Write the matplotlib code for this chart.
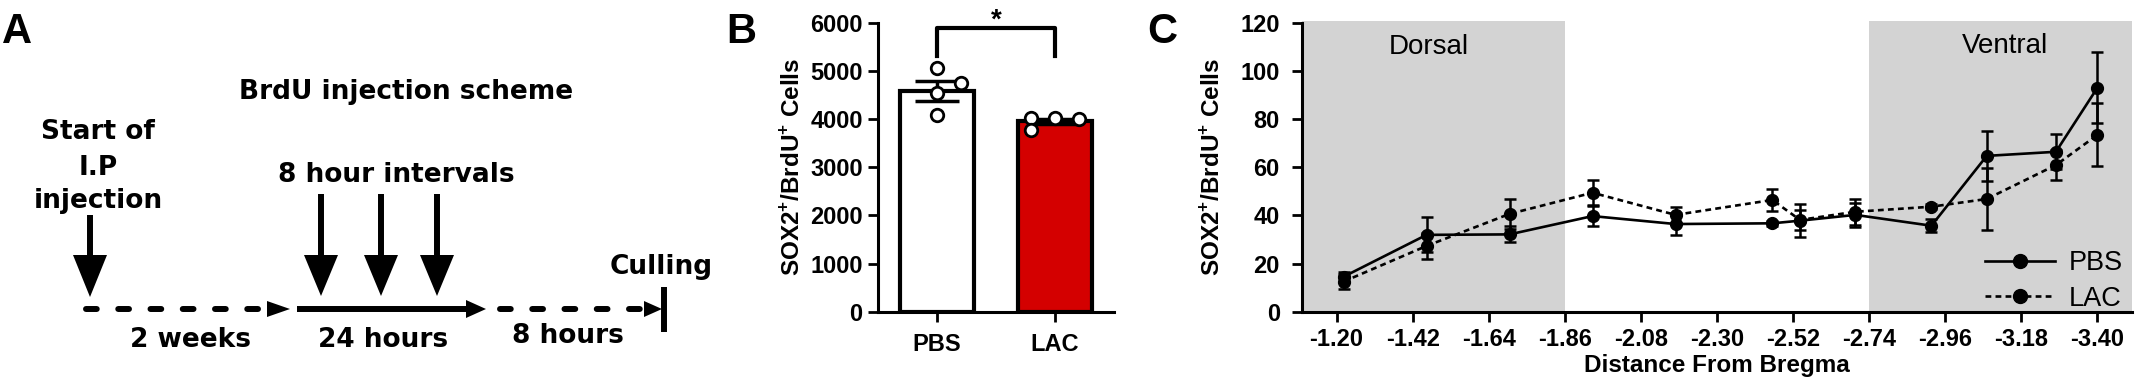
import matplotlib
matplotlib.use("Agg")
import matplotlib.pyplot as plt
import numpy as np
from matplotlib.lines import Line2D
from matplotlib.patches import Polygon

plt.rcParams['font.family'] = ['Liberation Sans', 'DejaVu Sans']
plt.rcParams['mathtext.fontset'] = 'custom'
plt.rcParams['mathtext.rm'] = 'Liberation Sans'
plt.rcParams['mathtext.bf'] = 'Liberation Sans:bold'

# ---------------- Panel B data ----------------
groups = ["PBS", "LAC"]
group_means = [4590, 3950]
group_sem = [210, 55]
pbs_points = [5050, 4740, 4550, 4080]
lac_points = [4015, 3775, 4015, 3995]
pbs_jitter = [0.0, 0.2, 0.0, 0.0]
lac_jitter = [-0.2, -0.2, 0.0, 0.2]

# ---------------- Panel C data ----------------
bregma = [-1.22, -1.46, -1.70, -1.94, -2.18, -2.46, -2.54, -2.70, -2.92, -3.08, -3.28, -3.40]
pbs_mean = [14.5, 31.9, 32.1, 39.7, 36.4, 36.7, 37.8, 40.2, 35.7, 64.7, 66.4, 93.0]
pbs_err = [2.1, 7.3, 3.3, 4.0, 4.5, 1.0, 6.9, 5.0, 2.7, 10.5, 7.3, 14.7]
lac_mean = [12.5, 27.3, 40.6, 49.4, 40.2, 46.4, 38.1, 41.5, 43.6, 46.8, 60.9, 73.4]
lac_err = [3.2, 5.5, 6.1, 5.3, 3.2, 4.6, 4.1, 5.3, 1.0, 13.0, 6.2, 13.1]
xtick_vals = [-1.20, -1.42, -1.64, -1.86, -2.08, -2.30, -2.52, -2.74, -2.96, -3.18, -3.40]
ytick_vals = [0, 20, 40, 60, 80, 100, 120]
dorsal_range = (-1.10, -1.86)
ventral_range = (-2.74, -3.50)

W, H = 2138, 389
fig = plt.figure(figsize=(W / 100, H / 100), dpi=100)
RED = "#d40000"
GRAY = "#d3d3d3"
TICK_FS = 17

# ---------------- Panel A (schematic, pixel-space overlay) ----------------
axA = fig.add_axes([0, 0, 1, 1], zorder=-5)
axA.set_xlim(0, W)
axA.set_ylim(H, 0)
axA.axis("off")
axA.patch.set_alpha(0)

afont = dict(family="DejaVu Sans", fontweight="bold", fontsize=19, ha="center", va="baseline")
axA.text(406, 99, "BrdU injection scheme", **afont)
axA.text(98, 139, "Start of", **afont)
axA.text(98, 175, "I.P", **afont)
axA.text(98, 208, "injection", **afont)
axA.text(396, 182, "8 hour intervals", **afont)
axA.text(661, 274, "Culling", **afont)
axA.text(191, 347, "2 weeks", **afont)
axA.text(383, 347, "24 hours", **afont)
axA.text(568, 343, "8 hours", **afont)


def down_arrow(x, y0, yhead, ytip, hw=17):
    axA.plot([x, x], [y0, yhead + 2], color="black", lw=4.3, solid_capstyle="butt")
    axA.add_patch(Polygon([[x - hw, yhead], [x + hw, yhead], [x, ytip]], closed=True,
                          color="black", lw=0))


def right_head(xs, xt, y, hh=8):
    axA.add_patch(Polygon([[xs, y - hh], [xs, y + hh], [xt, y]], closed=True,
                          color="black", lw=0))


down_arrow(90, 215, 255, 297)
for xa in (321, 381, 437):
    down_arrow(xa, 194, 255, 296)

yl = 309
axA.plot([86, 266], [yl, yl], color="black", lw=4.3, linestyle=(0, (1.8, 3.6)),
         dash_capstyle="round")
right_head(267, 290, yl)
axA.plot([297, 468], [yl, yl], color="black", lw=4.3, solid_capstyle="butt")
right_head(466, 486, yl, hh=9)
axA.plot([500, 643], [yl, yl], color="black", lw=4.3, linestyle=(0, (1.8, 3.6)),
         dash_capstyle="round")
right_head(644, 662, yl)
axA.plot([664, 664], [287, 332], color="black", lw=4.3, solid_capstyle="butt")

# panel letters
for lab, xp in (("A", 17), ("B", 741), ("C", 1162)):
    fig.text(xp / W, 1 - 43 / H, lab, fontsize=30, fontweight="bold", ha="center",
             va="baseline")

# ---------------- Panel B ----------------
axB = fig.add_axes([878 / W, 1 - 311.7 / H, (1114 - 878) / W, 289 / H])
xpos = np.arange(len(groups))
axB.bar(xpos, group_means, width=0.62, color=["white", RED], edgecolor="black",
        linewidth=3, zorder=2)
axB.errorbar(xpos, group_means, yerr=group_sem, fmt="none", ecolor="black",
             elinewidth=2.5, capsize=16, capthick=2.5, zorder=3)
axB.plot(xpos[0] + np.array(pbs_jitter), pbs_points, "o", mfc="white", mec="black",
         mew=2, ms=9, zorder=4, clip_on=False)
axB.plot(xpos[1] + np.array(lac_jitter), lac_points, "o", mfc="white", mec="black",
         mew=2, ms=9, zorder=4, clip_on=False)
axB.set_xlim(-0.5, 1.5)
axB.set_ylim(0, 6000)
axB.set_yticks(range(0, 6001, 1000))
axB.set_xticks(xpos)
axB.set_xticklabels(groups)
for s in ("top", "right"):
    axB.spines[s].set_visible(False)
for s in ("left", "bottom"):
    axB.spines[s].set_linewidth(2.2)
axB.tick_params(axis="both", length=7, width=2, labelsize=TICK_FS)
axB.tick_params(axis="y", pad=4)
axB.tick_params(axis="x", pad=8)
for t in axB.get_xticklabels() + axB.get_yticklabels():
    t.set_fontweight("bold")
axB.set_ylabel(r"SOX2$^{\mathbf{+}}$/BrdU$^{\mathbf{+}}$ Cells", fontsize=17.5,
               fontweight="bold")
axB.yaxis.set_label_coords((805 - 878) / 236, 0.5)
# significance bracket
axB.plot([0, 0, 1, 1], [5300, 5880, 5880, 5300], color="black", lw=3, clip_on=False)
axB.text(0.5, 5900, "*", fontsize=20, fontweight="bold", ha="center", va="baseline")

# ---------------- Panel C ----------------
axC = fig.add_axes([1302 / W, 1 - 311.7 / H, 830 / W, 289 / H])
axC.set_xlim(-1.10, -3.50)
axC.set_ylim(0, 120)
axC.axvspan(dorsal_range[0], dorsal_range[1], ymin=0, ymax=1.007, color=GRAY, lw=0,
            zorder=0, clip_on=False)
axC.axvspan(ventral_range[0], ventral_range[1], ymin=0, ymax=1.007, color=GRAY, lw=0,
            zorder=0, clip_on=False)
axC.errorbar(bregma, lac_mean, yerr=lac_err, fmt="o", linestyle=(0, (2.2, 1.6)),
             color="black", lw=1.9, ms=8.5, elinewidth=1.8, capsize=4.5, capthick=1.8,
             zorder=3, label="LAC")
axC.errorbar(bregma, pbs_mean, yerr=pbs_err, fmt="o", linestyle="-",
             color="black", lw=1.9, ms=8.5, elinewidth=1.8, capsize=4.5, capthick=1.8,
             zorder=4, label="PBS")
axC.text(-1.466, 107.0, "Dorsal", fontsize=20, ha="center", va="baseline")
axC.text(-3.133, 107.3, "Ventral", fontsize=20, ha="center", va="baseline")
axC.set_xticks(xtick_vals)
axC.set_xticklabels([f"{v:.2f}" for v in xtick_vals])
axC.set_yticks(ytick_vals)
for s in ("top", "right"):
    axC.spines[s].set_visible(False)
for s in ("left", "bottom"):
    axC.spines[s].set_linewidth(2.2)
axC.tick_params(axis="both", length=7, width=2, labelsize=TICK_FS)
axC.tick_params(axis="y", pad=9)
axC.tick_params(axis="x", pad=5)
for t in axC.get_xticklabels() + axC.get_yticklabels():
    t.set_fontweight("bold")
axC.set_xlabel("Distance From Bregma", fontsize=17.5, fontweight="bold", labelpad=2)
axC.set_ylabel(r"SOX2$^{\mathbf{+}}$/BrdU$^{\mathbf{+}}$ Cells", fontsize=17.5,
               fontweight="bold")
axC.yaxis.set_label_coords((1225 - 1302) / 830, 0.5)

handles = [Line2D([], [], color="black", lw=1.9, marker="o", ms=10, linestyle="-"),
           Line2D([], [], color="black", lw=1.9, marker="o", ms=10, linestyle=(0, (2.2, 1.6)))]
axC.legend(handles, ["PBS", "LAC"], loc="lower left",
           bbox_to_anchor=((1985 - 1302) / 830, 0.0), frameon=False, fontsize=19.5,
           handlelength=2.6, handletextpad=0.5, borderpad=0, borderaxespad=0,
           labelspacing=0.35)

fig.savefig("out.png", dpi=100)
